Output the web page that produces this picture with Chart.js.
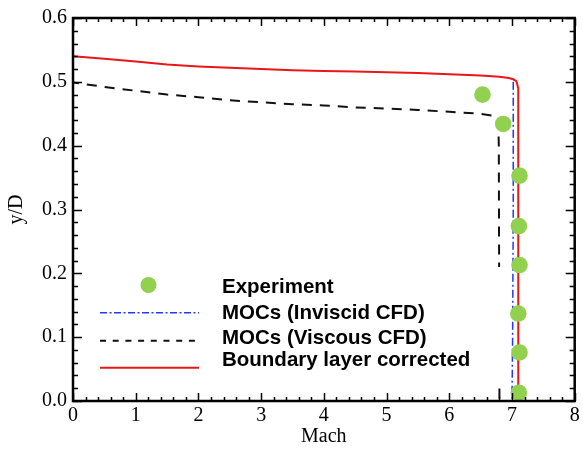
<!DOCTYPE html>
<html>
<head>
<meta charset="utf-8">
<script src="https://cdn.jsdelivr.net/npm/chart.js@4.4.1/dist/chart.umd.min.js"></script>
<style>
  html, body { margin: 0; padding: 0; background: #fff; }
  #wrap { width: 583px; height: 449px; }
</style>
</head>
<body>
<div id="wrap"><canvas id="machChart"></canvas></div>
<script>
/* ---------- Data ---------- */
const expMach = [6.53, 6.86, 7.12, 7.11, 7.12, 7.10, 7.12, 7.11];
const expYD = [0.480, 0.434, 0.353, 0.274, 0.213, 0.137, 0.076, 0.013];

const invMach = [7.02, 7.02, 7.01, 7.00];
const invYD = [0.500, 0.300, 0.100, 0.000];

const visMach = [0, 0.5, 1, 1.5, 2, 2.5, 3, 3.5, 4, 4.5, 5, 5.5, 6, 6.5, 6.7, 6.78, 6.79, 6.8];
const visYD = [0.499, 0.492, 0.486, 0.480, 0.476, 0.471, 0.468, 0.465, 0.463, 0.460, 0.458, 0.456, 0.453, 0.450, 0.447, 0.444, 0.400, 0.000];

const blMach = [0, 0.5, 1, 1.5, 2, 2.5, 3, 3.5, 4, 4.5, 5, 5.5, 6, 6.5, 6.8, 6.95, 7.02, 7.07, 7.1, 7.1];
const blYD = [0.540, 0.536, 0.532, 0.527, 0.524, 0.522, 0.520, 0.518, 0.517, 0.516, 0.515, 0.514, 0.512, 0.510, 0.508, 0.506, 0.504, 0.501, 0.490, 0.000];

const seriesNames = ["Experiment", "MOCs (Inviscid CFD)", "MOCs (Viscous CFD)", "Boundary layer corrected"];

const xMin = 0, xMax = 8, xStep = 1;
const yMin = 0, yMax = 0.6, yStep = 0.1;

function toPoints(xs, ys) {
  return xs.map((x, i) => ({ x: x, y: ys[i] }));
}

/* ---------- Frame, inward ticks and boxed legend ---------- */
const frameTicks = {
  id: "frameTicks",
  afterDatasetsDraw(chart) {
    const ctx = chart.ctx;
    const sets = chart.data.datasets;
    const lineY = [285, 312.7, 340.7, 367.7];
    const textY = [287, 313.5, 338.5, 360.5];

    ctx.save();
    ctx.fillStyle = "#fff";
    ctx.fillRect(95, 267, 411, 120);

    sets.forEach((ds, i) => {
      if (ds.showLine === false) {
        ctx.beginPath();
        ctx.fillStyle = ds.backgroundColor;
        ctx.arc(148.5, lineY[i], 8, 0, Math.PI * 2);
        ctx.fill();
      } else {
        ctx.beginPath();
        ctx.strokeStyle = ds.borderColor;
        ctx.lineWidth = ds.borderWidth;
        ctx.setLineDash(ds.legendDash || []);
        ctx.moveTo(100, lineY[i]);
        ctx.lineTo(199, lineY[i]);
        ctx.stroke();
        ctx.setLineDash([]);
      }
      ctx.fillStyle = "#000";
      ctx.font = "bold 20.5px 'Liberation Sans', Arial, sans-serif";
      ctx.textAlign = "left";
      ctx.textBaseline = "middle";
      ctx.fillText(ds.label, 222, textY[i]);
    });
    ctx.restore();
  },
  afterDraw(chart) {
    const ctx = chart.ctx;
    const a = chart.chartArea;
    const x = chart.scales.x;
    const y = chart.scales.y;

    ctx.save();
    ctx.strokeStyle = "#000";
    ctx.lineWidth = 1.5;
    ctx.beginPath();
    for (let i = 0; i <= 40; i++) {
      const px = Math.round(x.getPixelForValue(i * 0.2)) + 0.5;
      const len = i % 5 === 0 ? 8 : 4;
      ctx.moveTo(px, a.bottom);
      ctx.lineTo(px, a.bottom - len);
      ctx.moveTo(px, a.top);
      ctx.lineTo(px, a.top + len);
    }
    for (let i = 0; i <= 30; i++) {
      const py = Math.round(y.getPixelForValue(i * 0.02)) + 0.5;
      const len = i % 5 === 0 ? 9 : 5;
      ctx.moveTo(a.left, py);
      ctx.lineTo(a.left + len, py);
      ctx.moveTo(a.right, py);
      ctx.lineTo(a.right - len, py);
    }
    ctx.stroke();

    ctx.lineWidth = 2.5;
    ctx.strokeRect(a.left, a.top, a.right - a.left, a.bottom - a.top);
    ctx.restore();
  }
};

/* ---------- Chart ---------- */
const serifFont = { family: "'Liberation Serif', 'Times New Roman', serif", size: 20 };

new Chart(document.getElementById("machChart"), {
  type: "scatter",
  data: {
    datasets: [
      {
        label: seriesNames[0],
        data: toPoints(expMach, expYD),
        showLine: false,
        pointRadius: 8.3,
        pointHoverRadius: 8.3,
        backgroundColor: "#92d050",
        borderWidth: 0
      },
      {
        label: seriesNames[1],
        data: toPoints(invMach, invYD),
        showLine: true,
        pointRadius: 0,
        borderColor: "#2038ff",
        borderWidth: 1.5,
        borderDash: [8, 3, 2, 3],
        legendDash: [7, 2.5, 2, 2.5]
      },
      {
        label: seriesNames[2],
        data: toPoints(visMach, visYD),
        showLine: true,
        pointRadius: 0,
        borderColor: "#111",
        borderWidth: 2,
        borderDash: [10, 8],
        borderDashOffset: 4,
        legendDash: [6, 6.7]
      },
      {
        label: seriesNames[3],
        data: toPoints(blMach, blYD),
        showLine: true,
        pointRadius: 0,
        borderColor: "#e81818",
        borderWidth: 2
      }
    ]
  },
  options: {
    responsive: true,
    maintainAspectRatio: false,
    animation: false,
    devicePixelRatio: 1,
    layout: { padding: { left: 0, top: 14, right: 8, bottom: 0 } },
    elements: { line: { tension: 0 } },
    plugins: {
      legend: { display: false },
      tooltip: { enabled: false }
    },
    scales: {
      x: {
        type: "linear",
        min: xMin,
        max: xMax,
        afterFit(scale) { scale.height = 48; },
        grid: { display: false, drawTicks: false },
        border: { display: false },
        ticks: {
          stepSize: xStep,
          padding: 3,
          color: "#000",
          font: serifFont,
          maxRotation: 0
        },
        title: {
          display: true,
          text: "Mach",
          color: "#000",
          font: serifFont,
          padding: { top: 0, bottom: 0 }
        }
      },
      y: {
        type: "linear",
        min: yMin,
        max: yMax,
        afterFit(scale) { scale.width = 73; },
        grid: { display: false, drawTicks: false },
        border: { display: false },
        ticks: {
          stepSize: yStep,
          padding: 6,
          color: "#000",
          font: serifFont,
          callback: (v) => Number(v).toFixed(1)
        },
        title: {
          display: true,
          text: "y/D",
          color: "#000",
          font: serifFont,
          padding: { top: 5, bottom: 0 }
        }
      }
    }
  },
  plugins: [frameTicks]
});
</script>
</body>
</html>
